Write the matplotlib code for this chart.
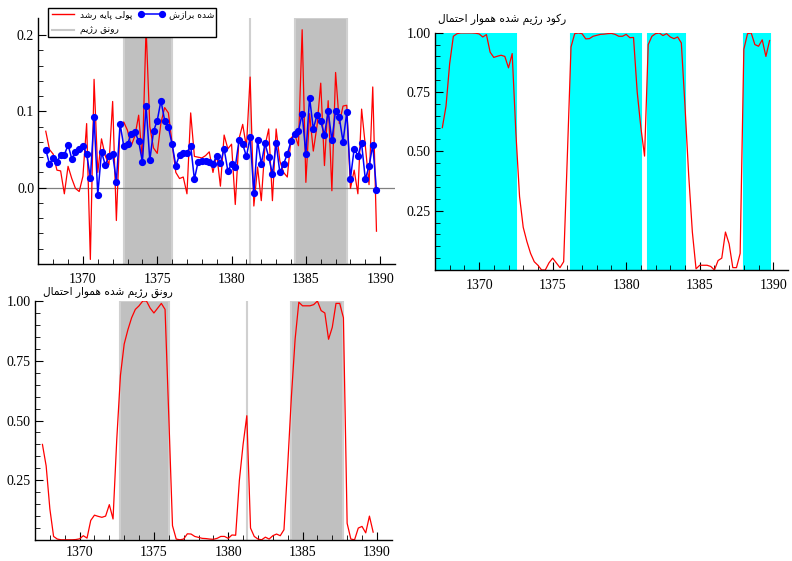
import numpy as np
import matplotlib
matplotlib.use("Agg")
import matplotlib.pyplot as plt
from matplotlib.lines import Line2D

plt.rcParams['font.family'] = ['Liberation Serif', 'DejaVu Sans']

# quarterly sample, 1367 Q3 .. 1389 Q4
dates = 1367.5 + 0.25 * np.arange(90)

# monetary base growth (actual)
growth = [0.074, 0.050, 0.044, 0.023, 0.022, -0.008, 0.028, 0.012, -0.001, -0.005,
          0.015, 0.084, -0.094, 0.142, 0.020, 0.064, 0.042, 0.030, 0.113, -0.043,
          0.083, 0.086, 0.075, 0.055, 0.068, 0.095, 0.036, 0.210, 0.080, 0.052,
          0.045, 0.085, 0.105, 0.098, 0.058, 0.020, 0.012, 0.014, -0.008, 0.098,
          0.041, 0.040, 0.039, 0.042, 0.047, 0.020, 0.044, 0.002, 0.069, 0.051,
          0.057, -0.022, 0.064, 0.083, 0.053, 0.145, -0.024, 0.027, -0.017, 0.055,
          0.077, -0.017, 0.077, 0.035, 0.020, 0.014, 0.065, 0.070, 0.055, 0.207,
          0.007, 0.097, 0.048, 0.081, 0.137, 0.029, 0.114, -0.004, 0.151, 0.084,
          0.107, 0.108, -0.001, 0.023, -0.008, 0.103, 0.055, 0.004, 0.132, -0.057]

# fitted values
fitted = [0.050, 0.031, 0.039, 0.034, 0.043, 0.043, 0.056, 0.038, 0.047, 0.051,
          0.055, 0.044, 0.013, 0.092, -0.009, 0.047, 0.030, 0.041, 0.044, 0.008,
          0.084, 0.054, 0.057, 0.071, 0.073, 0.061, 0.034, 0.107, 0.036, 0.074,
          0.088, 0.114, 0.088, 0.079, 0.057, 0.029, 0.043, 0.046, 0.046, 0.055,
          0.011, 0.034, 0.035, 0.035, 0.034, 0.031, 0.042, 0.032, 0.051, 0.022,
          0.031, 0.027, 0.062, 0.057, 0.041, 0.066, -0.007, 0.062, 0.031, 0.058,
          0.040, 0.018, 0.058, 0.020, 0.031, 0.044, 0.061, 0.071, 0.074, 0.097,
          0.044, 0.118, 0.077, 0.095, 0.087, 0.069, 0.100, 0.062, 0.101, 0.092,
          0.060, 0.099, 0.012, 0.051, 0.042, 0.058, 0.011, 0.028, 0.056, -0.003]

# smoothed probability of the boom regime
p_boom = [0.40, 0.31, 0.13, 0.015, 0.004, 0.001, 0.001, 0.001, 0.001, 0.002,
          0.005, 0.018, 0.008, 0.082, 0.104, 0.099, 0.095, 0.100, 0.148, 0.088,
          0.42, 0.69, 0.82, 0.88, 0.93, 0.965, 0.98, 1.0, 1.0, 0.97,
          0.95, 0.97, 0.99, 0.965, 0.52, 0.06, 0.004, 0.001, 0.004, 0.026,
          0.025, 0.015, 0.011, 0.007, 0.006, 0.004, 0.003, 0.007, 0.015, 0.015,
          0.007, 0.021, 0.02, 0.25, 0.40, 0.52, 0.05, 0.015, 0.004, 0.001,
          0.012, 0.004, 0.018, 0.025, 0.018, 0.043, 0.31, 0.60, 0.84, 0.995,
          0.98, 0.98, 0.98, 0.985, 1.0, 0.96, 0.95, 0.84, 0.89, 0.99,
          0.99, 0.93, 0.07, 0.004, 0.001, 0.05, 0.057, 0.03, 0.10, 0.033]

# smoothed probability of the recession regime
p_rec = [0.60, 0.69, 0.87, 0.985, 0.996, 0.999, 0.999, 0.999, 0.999, 0.998,
         0.995, 0.982, 0.992, 0.918, 0.896, 0.901, 0.905, 0.900, 0.852, 0.912,
         0.58, 0.31, 0.18, 0.12, 0.07, 0.035, 0.02, 0.0, 0.0, 0.03,
         0.05, 0.03, 0.01, 0.035, 0.48, 0.94, 0.996, 0.999, 0.996, 0.974,
         0.975, 0.985, 0.989, 0.993, 0.994, 0.996, 0.997, 0.993, 0.985, 0.985,
         0.993, 0.979, 0.98, 0.75, 0.60, 0.48, 0.95, 0.985, 0.996, 0.999,
         0.988, 0.996, 0.982, 0.975, 0.982, 0.957, 0.69, 0.40, 0.16, 0.005,
         0.02, 0.02, 0.02, 0.015, 0.0, 0.04, 0.05, 0.16, 0.11, 0.01,
         0.01, 0.07, 0.93, 0.996, 0.999, 0.95, 0.943, 0.97, 0.90, 0.967]

lbl_growth = "رشد پایه پولی"
lbl_fitted = "برازش شده"
lbl_boom = "رژیم رونق"
title_rec = "احتمال هموار شده رژیم رکود"
title_boom = "احتمال هموار شده رژیم رونق"

# presentation forms: isolated, final, initial, medial
FORMS = {
    'ا': ('\uFE8D', '\uFE8E'), 'د': ('\uFEA9', '\uFEAA'), 'ر': ('\uFEAD', '\uFEAE'),
    'ز': ('\uFEAF', '\uFEB0'), 'ژ': ('\uFB8A', '\uFB8B'), 'و': ('\uFEED', '\uFEEE'),
    'ب': ('\uFE8F', '\uFE90', '\uFE91', '\uFE92'), 'پ': ('\uFB56', '\uFB57', '\uFB58', '\uFB59'),
    'ت': ('\uFE95', '\uFE96', '\uFE97', '\uFE98'), 'ح': ('\uFEA1', '\uFEA2', '\uFEA3', '\uFEA4'),
    'ش': ('\uFEB5', '\uFEB6', '\uFEB7', '\uFEB8'), 'ق': ('\uFED5', '\uFED6', '\uFED7', '\uFED8'),
    'ک': ('\uFB8E', '\uFB8F', '\uFB90', '\uFB91'), 'ل': ('\uFEDD', '\uFEDE', '\uFEDF', '\uFEE0'),
    'م': ('\uFEE1', '\uFEE2', '\uFEE3', '\uFEE4'), 'ن': ('\uFEE5', '\uFEE6', '\uFEE7', '\uFEE8'),
    'ه': ('\uFEE9', '\uFEEA', '\uFEEB', '\uFEEC'), 'ی': ('\uFBFC', '\uFBFD', '\uFBFE', '\uFBFF'),
}


def fa(text):
    # join letters of each word, letters laid out right to left
    out = []
    for w in text.split(' '):
        g = []
        for k, ch in enumerate(w):
            f = FORMS[ch]
            prev = k > 0 and len(FORMS[w[k - 1]]) == 4
            nxt = k < len(w) - 1 and len(f) == 4
            if prev and nxt:
                g.append(f[3])
            elif prev:
                g.append(f[1])
            elif nxt:
                g.append(f[2])
            else:
                g.append(f[0])
        out.append(''.join(reversed(g)))
    return ' '.join(out)


def regimes(p):
    runs, start = [], None
    for i, v in enumerate(p):
        if v > 0.5 and start is None:
            start = i
        if v <= 0.5 and start is not None:
            runs.append((start, i - 1))
            start = None
    if start is not None:
        runs.append((start, len(p) - 1))
    return runs


def shade(ax, p, color, edge):
    lo = ax.get_xlim()[0]
    for a, b in regimes(p):
        x0 = dates[a] if a > 0 else lo
        ax.axvspan(x0, dates[b], facecolor=color, edgecolor=edge, lw=1.5, zorder=0)


def style(ax, xpad=6):
    for s in ['top', 'right']:
        ax.spines[s].set_visible(False)
    ax.spines['left'].set_linewidth(1.0)
    ax.spines['bottom'].set_linewidth(1.0)
    ax.set_xlim(1367, 1391)
    ax.set_xticks([1370, 1375, 1380, 1385, 1390])
    ax.set_xticks(np.arange(1368, 1391), minor=True)
    ax.tick_params(axis='both', which='both', direction='in', labelsize=10)
    ax.tick_params(axis='x', which='major', length=6, pad=xpad)
    ax.tick_params(axis='x', which='minor', length=3.5)
    ax.tick_params(axis='y', which='major', length=6, pad=3)
    ax.tick_params(axis='y', which='minor', length=3.5)


fig = plt.figure(figsize=(7.92, 5.61), dpi=100)
ax1 = fig.add_axes([0.0484, 0.5294, 0.4504, 0.438])
ax2 = fig.add_axes([0.5492, 0.5187, 0.4457, 0.423])
ax3 = fig.add_axes([0.0442, 0.0374, 0.4504, 0.426])

# top left: growth and fit
style(ax1, 6.5)
ax1.set_ylim(-0.1, 0.222)
shade(ax1, p_boom, '#c0c0c0', '#d0d0d0')
ax1.axhline(0, color='#808080', lw=0.9, zorder=1)
ax1.plot(dates, growth, color='#ff0000', lw=0.9, zorder=2)
ax1.plot(dates, fitted, color='#0000ff', lw=1.1, marker='o', ms=4.2, zorder=3)
ax1.set_yticks([0.0, 0.1, 0.2])
ax1.set_yticklabels(['0.0', '0.1', '0.2'])
ax1.set_yticks(np.arange(-0.08, 0.22, 0.02), minor=True)
handles = [Line2D([], [], color='#ff0000', lw=1),
           Line2D([], [], color='#c8c8c8', lw=1.5),
           Line2D([], [], color='#0000ff', lw=1.1, marker='o', ms=4.2)]
labels = [fa(lbl_growth), fa(lbl_boom), fa(lbl_fitted)]
leg = ax1.legend(handles, labels, ncol=2, loc='lower left', bbox_to_anchor=(0.026, 0.923),
                 borderaxespad=0, fancybox=False, edgecolor='black', framealpha=1,
                 prop={'family': 'DejaVu Sans', 'size': 6.5}, numpoints=2,
                 labelspacing=0.8, borderpad=0.2, handlelength=3.0,
                 handletextpad=0.4, columnspacing=0.6)
leg.get_frame().set_linewidth(1.0)
leg.set_zorder(5)

# top right: recession probability
style(ax2, 6.5)
ax2.set_ylim(0, 1)
shade(ax2, p_rec, '#00ffff', '#00ffff')
ax2.plot(dates, p_rec, color='#ff0000', lw=0.9, zorder=2)
ax2.set_yticks([0.25, 0.5, 0.75, 1.0])
ax2.set_yticklabels(['0.25', '0.50', '0.75', '1.00'])
ax2.set_yticks(np.arange(0.05, 1.0, 0.05), minor=True)
ax2.text(0.008, 1.058, fa(title_rec), transform=ax2.transAxes, ha='left', va='center',
         fontsize=7.6, family='DejaVu Sans')

# bottom left: boom probability
style(ax3, 4.5)
ax3.set_ylim(0, 1)
shade(ax3, p_boom, '#c0c0c0', '#d0d0d0')
ax3.plot(dates, p_boom, color='#ff0000', lw=0.9, zorder=2)
ax3.set_yticks([0.25, 0.5, 0.75, 1.0])
ax3.set_yticklabels(['0.25', '0.50', '0.75', '1.00'])
ax3.set_yticks(np.arange(0.05, 1.0, 0.05), minor=True)
ax3.text(0.022, 1.035, fa(title_boom), transform=ax3.transAxes, ha='left', va='center',
         fontsize=7.6, family='DejaVu Sans')

fig.savefig('out.png', dpi=100)
